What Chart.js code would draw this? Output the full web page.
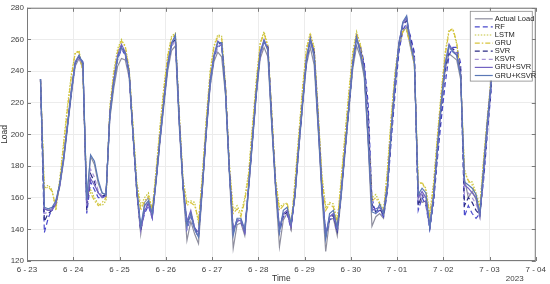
<!DOCTYPE html>
<html>
<head>
<meta charset="utf-8">
<script src="https://cdn.jsdelivr.net/npm/chart.js@4.4.1/dist/chart.umd.min.js"></script>
<style>
  html, body { margin: 0; padding: 0; background: #fff; }
  #wrap { width: 550px; height: 284px; position: relative; }
</style>
</head>
<body>
<div id="wrap"><canvas id="chart"></canvas></div>
<script>
// tick labels of the date axis (one per day, 6-23 .. 7-04)
const dateLabels = ["6 - 23", "6 - 24", "6 - 25", "6 - 26", "6 - 27", "6 - 28", "6 - 29", "6 - 30", "7 - 01", "7 - 02", "7 - 03", "7 - 04"];
const yearLabel = "2023";

// samples every 2 hours, first one at 07:00 on 6-23
const startHour = 7;
const stepHours = 2;

const actualLoad = [235, 153, 152, 153, 157, 167, 183, 204, 225, 243,
    248, 242, 160, 186, 181, 169, 163, 162, 210, 229,
    243, 248, 247, 236, 199, 163, 137, 157, 160, 150,
    170, 195, 218, 240, 253, 256, 205, 165, 133, 145,
    137, 131, 165, 200, 230, 246, 252, 249, 225, 175,
    128, 143, 144, 136, 165, 195, 225, 248, 255, 249,
    205, 165, 129, 146, 150, 143, 160, 190, 218, 244,
    255, 244, 205, 162, 126, 146, 147, 136, 160, 188,
    215, 241, 256, 249, 236, 195, 142, 148, 150, 147,
    165, 200, 230, 254, 265, 268, 255, 244, 165, 157,
    158, 142, 160, 190, 218, 241, 251, 249, 247, 235,
    172, 160, 164, 159, 148, 178, 208, 234];

const rf = [234, 138, 147, 153, 158, 168, 184, 205, 226, 244,
    249, 246, 150, 170, 165, 160, 160, 162, 213, 233,
    247, 254, 250, 238, 200, 163, 140, 150, 155, 147,
    171, 196, 220, 243, 256, 259, 209, 166, 140, 148,
    140, 135, 166, 201, 231, 248, 255, 257, 230, 178,
    138, 145, 145, 138, 166, 196, 226, 250, 258, 256,
    212, 168, 138, 148, 150, 140, 161, 191, 219, 246,
    258, 254, 215, 170, 135, 146, 148, 138, 162, 189,
    216, 243, 259, 256, 245, 220, 160, 150, 152, 148,
    164, 196, 226, 252, 266, 270, 262, 252, 152, 160,
    155, 140, 157, 185, 210, 232, 250, 255, 255, 245,
    148, 155, 150, 147, 150, 172, 202, 230];

const lstm = [234, 166, 168, 165, 152, 172, 195, 218, 238, 251,
    253, 240, 162, 165, 160, 156, 155, 158, 218, 240,
    254, 260, 255, 242, 206, 170, 155, 160, 163, 152,
    178, 205, 230, 250, 262, 264, 214, 172, 157, 158,
    157, 144, 175, 210, 240, 256, 263, 262, 232, 182,
    152, 155, 150, 160, 176, 206, 235, 258, 265, 256,
    215, 172, 154, 156, 156, 141, 170, 200, 230, 255,
    264, 255, 216, 175, 154, 157, 156, 145, 172, 200,
    227, 252, 265, 257, 240, 203, 160, 162, 157, 152,
    178, 212, 240, 258, 266, 266, 257, 245, 170, 169,
    166, 150, 170, 200, 228, 252, 266, 266, 257, 238,
    178, 170, 170, 163, 155, 186, 213, 238];

const gru = [234, 165, 167, 164, 154, 170, 193, 216, 236, 252,
    252, 239, 160, 163, 158, 155, 157, 160, 216, 238,
    252, 259, 256, 241, 205, 168, 152, 158, 161, 153,
    176, 203, 228, 249, 261, 263, 212, 170, 155, 157,
    155, 146, 173, 208, 238, 255, 262, 261, 230, 180,
    150, 153, 148, 158, 174, 204, 233, 257, 264, 255,
    213, 170, 152, 155, 157, 143, 168, 198, 228, 253,
    263, 254, 214, 173, 152, 156, 154, 144, 170, 198,
    225, 250, 264, 256, 239, 201, 158, 160, 156, 151,
    176, 210, 238, 257, 265, 265, 256, 244, 168, 170,
    164, 148, 168, 198, 226, 250, 265, 267, 258, 237,
    176, 171, 168, 161, 153, 184, 211, 237];

const svr = [235, 145, 150, 152, 157, 168, 185, 206, 227, 245,
    249, 245, 152, 175, 170, 163, 161, 162, 213, 233,
    249, 256, 251, 239, 200, 164, 139, 152, 157, 149,
    172, 197, 221, 244, 257, 260, 209, 167, 143, 150,
    141, 137, 167, 202, 233, 249, 257, 258, 229, 178,
    139, 146, 146, 139, 167, 197, 227, 251, 259, 255,
    210, 168, 140, 149, 151, 142, 162, 192, 220, 247,
    260, 252, 211, 167, 136, 147, 149, 139, 163, 190,
    217, 244, 260, 254, 243, 212, 156, 151, 153, 149,
    166, 201, 233, 257, 269, 272, 260, 250, 155, 162,
    157, 141, 160, 190, 216, 240, 254, 254, 252, 241,
    155, 160, 157, 152, 149, 175, 205, 232];

const ksvr = [235, 150, 151, 153, 157, 168, 184, 205, 226, 244,
    249, 244, 155, 178, 173, 164, 161, 162, 212, 232,
    248, 254, 250, 238, 200, 165, 139, 153, 158, 150,
    171, 196, 220, 243, 256, 259, 208, 166, 141, 149,
    140, 136, 166, 201, 232, 248, 256, 257, 227, 177,
    138, 146, 146, 139, 166, 196, 226, 250, 258, 254,
    209, 167, 139, 150, 152, 143, 161, 191, 219, 246,
    259, 250, 209, 166, 135, 148, 150, 140, 162, 190,
    217, 244, 260, 253, 241, 205, 154, 150, 154, 150,
    167, 202, 234, 258, 270, 273, 259, 248, 158, 163,
    158, 141, 161, 191, 218, 242, 255, 253, 251, 239,
    162, 163, 160, 156, 150, 176, 206, 233];

const gruSvr = [235, 153, 152, 152, 156, 168, 185, 206, 228, 246,
    250, 244, 157, 172, 168, 163, 160, 161, 214, 234,
    250, 257, 252, 240, 201, 164, 140, 152, 156, 147,
    172, 198, 222, 244, 258, 262, 210, 168, 145, 152,
    141, 138, 168, 203, 234, 250, 259, 257, 228, 178,
    140, 145, 146, 138, 168, 198, 228, 252, 260, 254,
    208, 168, 141, 150, 152, 141, 162, 193, 221, 248,
    261, 250, 208, 166, 137, 148, 150, 140, 163, 191,
    218, 245, 262, 252, 240, 198, 152, 153, 154, 150,
    168, 203, 234, 258, 270, 274, 258, 247, 160, 164,
    160, 142, 162, 193, 221, 245, 257, 253, 250, 238,
    168, 166, 163, 160, 148, 180, 210, 236];

const gruKsvr = [235, 154, 153, 154, 158, 169, 185, 205, 227, 245,
    250, 245, 159, 187, 183, 171, 163, 162, 212, 232,
    248, 255, 251, 239, 201, 166, 142, 155, 158, 150,
    171, 197, 220, 243, 257, 263, 208, 167, 142, 150,
    140, 135, 167, 202, 232, 249, 258, 258, 226, 177,
    136, 147, 147, 140, 167, 197, 227, 251, 259, 253,
    207, 167, 138, 152, 154, 144, 161, 192, 220, 247,
    260, 249, 207, 165, 134, 150, 152, 141, 162, 190,
    217, 244, 261, 251, 239, 197, 151, 150, 156, 150,
    167, 202, 233, 257, 271, 275, 257, 246, 162, 166,
    163, 141, 161, 192, 220, 244, 256, 252, 250, 237,
    170, 168, 166, 162, 150, 179, 209, 235];

// time of each sample, in days since 6-23 00:00
const times = actualLoad.map((v, i) => (startHour + i * stepHours) / 24);

const toPoints = (values) => values.map((v, i) => ({x: times[i], y: v}));

const series = [
    {label: 'Actual Load', data: actualLoad, color: '#8e8e9e', dash: []},
    {label: 'RF', data: rf, color: '#4848cc', dash: [5, 3]},
    {label: 'LSTM', data: lstm, color: '#c4c43a', dash: [1.5, 1.5]},
    {label: 'GRU', data: gru, color: '#d8c43c', dash: [5, 2, 1.5, 2]},
    {label: 'SVR', data: svr, color: '#2c2c84', dash: [5, 3]},
    {label: 'KSVR', data: ksvr, color: '#a894d8', dash: [4, 3]},
    {label: 'GRU+SVR', data: gruSvr, color: '#7262c2', dash: []},
    {label: 'GRU+KSVR', data: gruKsvr, color: '#5a78b6', dash: []}
];

// matlab style frame, inward ticks, inset legend and year label
const framePlugin = {
    id: 'frame',
    afterDraw(chart) {
        const ctx = chart.ctx;
        const area = chart.chartArea;
        const xs = chart.scales.x;
        const ys = chart.scales.y;
        ctx.save();
        ctx.strokeStyle = '#7a7a7a';
        ctx.lineWidth = 1;
        ctx.strokeRect(area.left + 0.5, area.top + 0.5, area.right - area.left - 1, area.bottom - area.top - 1);

        ctx.beginPath();
        xs.ticks.forEach(t => {
            const px = Math.round(xs.getPixelForValue(t.value)) + 0.5;
            ctx.moveTo(px, area.bottom);
            ctx.lineTo(px, area.bottom - 4);
            ctx.moveTo(px, area.top);
            ctx.lineTo(px, area.top + 4);
        });
        ys.ticks.forEach(t => {
            const py = Math.round(ys.getPixelForValue(t.value)) + 0.5;
            ctx.moveTo(area.left, py);
            ctx.lineTo(area.left + 4, py);
            ctx.moveTo(area.right, py);
            ctx.lineTo(area.right - 4, py);
        });
        ctx.stroke();

        // year under the last date label
        ctx.fillStyle = '#404040';
        ctx.font = '8px "Liberation Sans", Arial, sans-serif';
        ctx.textAlign = 'center';
        ctx.textBaseline = 'middle';
        ctx.fillText(yearLabel, area.right - 21, 279);

        // legend box in the upper right corner
        const boxRight = area.right - 4;
        const boxLeft = boxRight - 62;
        const boxTop = area.top + 3;
        const rowH = 8.1;
        ctx.fillStyle = '#ffffff';
        ctx.fillRect(boxLeft, boxTop, boxRight - boxLeft, rowH * series.length + 5);
        ctx.strokeStyle = '#8a8a8a';
        ctx.lineWidth = 0.8;
        ctx.strokeRect(boxLeft + 0.5, boxTop + 0.5, boxRight - boxLeft, rowH * series.length + 5);

        ctx.font = '7.5px "Liberation Sans", Arial, sans-serif';
        ctx.textAlign = 'left';
        chart.data.datasets.forEach((ds, i) => {
            const cy = boxTop + 8 + i * rowH;
            ctx.strokeStyle = ds.borderColor;
            ctx.lineWidth = 1.2;
            ctx.setLineDash(ds.borderDash);
            ctx.beginPath();
            ctx.moveTo(boxLeft + 5, cy);
            ctx.lineTo(boxLeft + 23, cy);
            ctx.stroke();
            ctx.setLineDash([]);
            ctx.fillStyle = '#222222';
            ctx.fillText(ds.label, boxLeft + 25, cy);
        });
        ctx.restore();
    }
};

const ctx = document.getElementById('chart');

new Chart(ctx, {
    type: 'line',
    data: {
        datasets: series.map((s, i) => ({
            label: s.label,
            data: toPoints(s.data),
            borderColor: s.color,
            backgroundColor: s.color,
            borderDash: s.dash,
            borderWidth: 1.2,
            pointRadius: 0,
            tension: 0,
            fill: false,
            order: series.length - i
        }))
    },
    options: {
        responsive: true,
        maintainAspectRatio: false,
        animation: false,
        layout: {
            padding: {top: 4, right: 13, bottom: 0, left: 0}
        },
        plugins: {
            legend: {display: false},
            tooltip: {enabled: false}
        },
        scales: {
            x: {
                type: 'linear',
                min: 0,
                max: 11,
                afterFit: (scale) => { scale.height = 23; },
                grid: {color: '#ececec', drawTicks: false},
                border: {display: false},
                ticks: {
                    stepSize: 1,
                    autoSkip: false,
                    maxRotation: 0,
                    padding: 4,
                    color: '#404040',
                    font: {family: '"Liberation Sans", Arial, sans-serif', size: 8},
                    callback: (value) => dateLabels[value]
                },
                title: {
                    display: true,
                    text: 'Time',
                    color: '#303030',
                    padding: {top: 0, bottom: 0},
                    font: {family: '"Liberation Sans", Arial, sans-serif', size: 8.5}
                }
            },
            y: {
                min: 120,
                max: 280,
                afterFit: (scale) => { scale.width = 27; },
                grid: {color: '#ececec', drawTicks: false},
                border: {display: false},
                ticks: {
                    stepSize: 20,
                    padding: 3,
                    color: '#404040',
                    font: {family: '"Liberation Sans", Arial, sans-serif', size: 8}
                },
                title: {
                    display: true,
                    text: 'Load',
                    color: '#303030',
                    padding: {top: 0, bottom: 0},
                    font: {family: '"Liberation Sans", Arial, sans-serif', size: 8.5}
                }
            }
        }
    },
    plugins: [framePlugin]
});
</script>
</body>
</html>
